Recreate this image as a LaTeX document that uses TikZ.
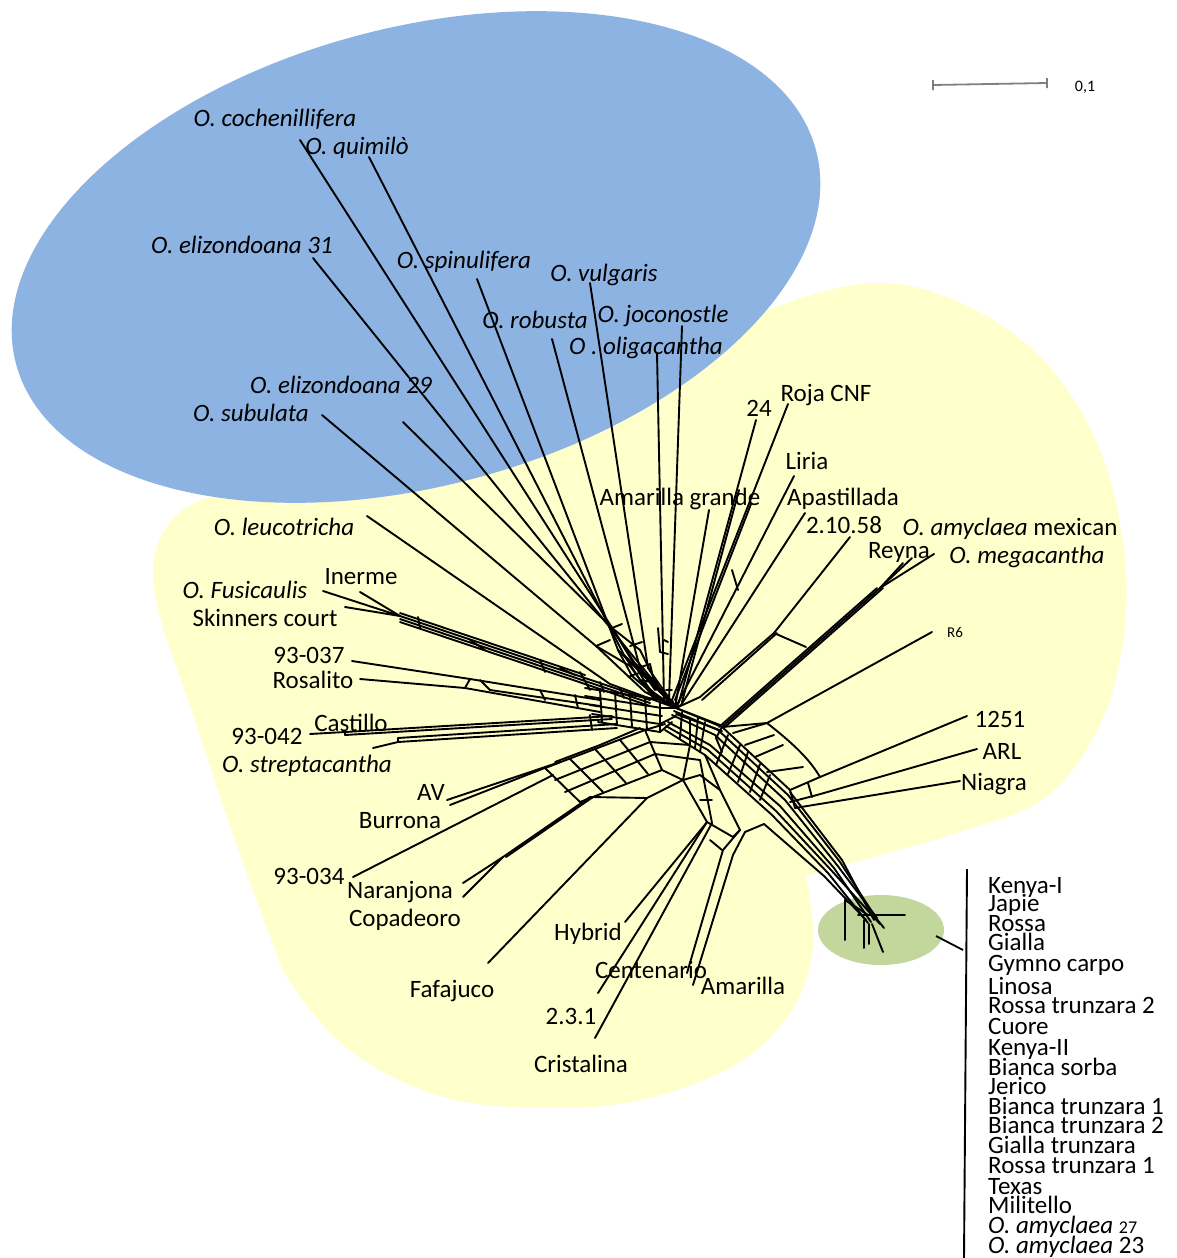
\documentclass[tikz,border=0pt]{standalone}
\usepackage{fontspec}
\setmainfont{Carlito}
\usetikzlibrary{calc}
\begin{document}
\begin{tikzpicture}[x=1pt,y=-1pt,
  net/.style={line width=1.9pt,line join=round,line cap=round},
  lab/.style={inner sep=0pt,anchor=base,font=\fontsize{25}{27}\selectfont},
  spec/.style={lab,font=\fontsize{25}{27}\selectfont\itshape},
  lst/.style={lab,anchor=base west}]
\useasboundingbox (0,0) rectangle (1177,1258);
\fill[white] (0,0) rectangle (1177,1258);
% groups
\definecolor{yellowarea}{HTML}{FFFFCC}
\fill[yellowarea] plot[smooth,tension=0.6] coordinates {(806,876) (813,945) (792,1010) (735,1065) (640,1100) (540,1108) (440,1096) (352,1052) (292,985) (268,930) (235,840) (195,720) (156,600) (162,535) (210,497) (330,480) (500,430) (650,370) (760,313) (873,283) (965,305) (1045,362) (1100,450) (1125,560) (1120,660) (1092,740) (1042,800) (960,832) (880,855) (806,876)} -- cycle;
\definecolor{blueoval}{HTML}{8DB3E2}
\fill[blueoval, rotate around={15:(416,257)}] (416,257) ellipse [x radius=414, y radius=229];
\definecolor{greenoval}{HTML}{C3D69B}
\fill[greenoval] (881,930) ellipse [x radius=63, y radius=35];
% scale bar
\definecolor{scalegray}{HTML}{808080}
\draw[scalegray, line width=1.8pt] (933,85) -- (1047,83) (933,80) -- (933,90) (1047,78) -- (1047,88);
\node[lab, font=\fontsize{16}{18}\selectfont] (scale) at (1085,91) {0,1};
% labels
\node[spec] (coch) at (275,126) {O. cochenillifera};
\node[spec] (quim) at (357,154) {O. quimilò};
\node[spec] (el31) at (242,253) {O. elizondoana 31};
\node[spec] (spin) at (464,268) {O. spinulifera};
\node[spec] (vulg) at (604,281) {O. vulgaris};
\node[spec] (robu) at (535,328) {O. robusta};
\node[spec] (joco) at (663,322) {O. joconostle};
\node[spec] (olig) at (646,354) {O . oligacantha};
\node[spec] (el29) at (341,393) {O. elizondoana 29};
\node[spec] (subu) at (251,421) {O. subulata};
\node[spec] (leuc) at (284,535) {O. leucotricha};
\node[lab] (iner) at (361,584) {Inerme};
\node[spec] (fusi) at (245,598) {O. Fusicaulis};
\node[lab] (skin) at (265,626) {Skinners court};
\node[lab] (n937) at (309,663) {93-037};
\node[lab] (rosa) at (313,688) {Rosalito};
\node[lab] (cast) at (351,731) {Castillo};
\node[lab] (n942) at (267,744) {93-042};
\node[spec] (stre) at (307,772) {O. streptacantha};
\node[lab] (av) at (431,800) {AV};
\node[lab] (burr) at (400,828) {Burrona};
\node[lab] (n934) at (309,884) {93-034};
\node[lab] (nara) at (400,898) {Naranjona};
\node[lab] (copa) at (405,926) {Copadeoro};
\node[lab] (fafa) at (452,997) {Fafajuco};
\node[lab] (hybr) at (588,940) {Hybrid};
\node[lab] (cent) at (651,978) {Centenario};
\node[lab] (amar) at (743,994) {Amarilla};
\node[lab] (n231) at (571,1024) {2.3.1};
\node[lab] (cris) at (581,1072) {Cristalina};
\node[lab] (amgr) at (680,505) {Amarilla grande};
\node[lab] (n24) at (759,416) {24};
\node[lab] (roja) at (826,401) {Roja CNF};
\node[lab] (liri) at (807,469) {Liria};
\node[lab] (apas) at (843,505) {Apastillada};
\node[lab] (n21058) at (844,533) {2.10.58};
\node[lab] (mexi) at (1010,535) {\itshape O. amyclaea\upshape\ mexican};
\node[lab] (reyn) at (899,558) {Reyna};
\node[spec] (mega) at (1027,563) {O. megacantha};
\node[lab, font=\fontsize{15}{17}\selectfont] (r6) at (955,637) {R6};
\node[lab] (n1251) at (1000,727) {1251};
\node[lab] (arl) at (1002,759) {ARL};
\node[lab] (niag) at (994,790) {Niagra};
% list of the green group
\node[lst] (kenya1) at (988,893) {Kenya-I};
\node[lst] (japie) at (988,911) {Japie};
\node[lst] (rossa) at (988,931) {Rossa};
\node[lst] (gialla) at (988,950) {Gialla};
\node[lst] (gymno) at (988,971) {Gymno carpo};
\node[lst] (linosa) at (988,994) {Linosa};
\node[lst] (rtrun2) at (988,1013) {Rossa trunzara 2};
\node[lst] (cuore) at (988,1034) {Cuore};
\node[lst] (kenya2) at (988,1055) {Kenya-II};
\node[lst] (bsorba) at (988,1075) {Bianca sorba};
\node[lst] (jerico) at (988,1094) {Jerico};
\node[lst] (btrun1) at (988,1114) {Bianca trunzara 1};
\node[lst] (btrun2) at (988,1133) {Bianca trunzara 2};
\node[lst] (gtrun) at (988,1153) {Gialla trunzara};
\node[lst] (rtrun1) at (988,1173) {Rossa trunzara 1};
\node[lst] (texas) at (988,1194) {Texas};
\node[lst] (milit) at (988,1213) {Militello};
\node[lst] (amy27) at (988,1233) {\itshape O. amyclaea\upshape\ \fontsize{18}{20}\selectfont 27};
\node[lst] (amy23) at (988,1253) {\itshape O. amyclaea\upshape\ 23};
\coordinate (brtop) at (967,869);
\coordinate (brbot) at (964,1258);
\coordinate (brin) at (963,950);
\coordinate (grnout) at (936,936);
\draw[line width=1.9pt] (brtop) -- (brbot);
\draw[line width=1.8pt] (grnout) -- (brin);
% leaf tips
\coordinate (tcoch) at (300,140);
\coordinate (tquim) at (369,157);
\coordinate (tel31) at (313,258);
\coordinate (tspin) at (477,279);
\coordinate (tvulg) at (590,283);
\coordinate (trobu) at (552,339);
\coordinate (tjoco) at (682,326);
\coordinate (tolig) at (657,353);
\coordinate (tel29) at (403,422);
\coordinate (tsubu) at (322,415);
\coordinate (tleuc) at (367,516);
\coordinate (tiner) at (360,592);
\coordinate (tfusi) at (323,591);
\coordinate (tskin) at (345,607);
\coordinate (t937) at (352,661);
\coordinate (trosa) at (360,679);
\coordinate (tcast) at (310,734);
\coordinate (tstre) at (373,748);
\coordinate (tav) at (447,800);
\coordinate (tburr) at (450,805);
\coordinate (t934) at (353,877);
\coordinate (tnara) at (463,883);
\coordinate (tcopa) at (463,897);
\coordinate (tfafa) at (488,963);
\coordinate (thybr) at (625,922);
\coordinate (tcent) at (598,993);
\coordinate (tcris) at (595,1038);
\coordinate (tama1) at (687,973);
\coordinate (tama2) at (693,985);
\coordinate (tamgr) at (709,510);
\coordinate (t24) at (756,420);
\coordinate (troja) at (788,404);
\coordinate (tliri) at (794,476);
\coordinate (tapas) at (805,513);
\coordinate (t21058) at (850,537);
\coordinate (treyn) at (903,563);
\coordinate (tmexi) at (912,558);
\coordinate (tmega) at (934,554);
\coordinate (tr6) at (932,632);
\coordinate (t1251) at (967,716);
\coordinate (tarl) at (977,749);
\coordinate (tniag) at (960,781);
% inner points
\coordinate (cc) at (676,708);
\coordinate (icoch) at (634,662);
\coordinate (iquim) at (624,655);
\coordinate (iel31) at (628,650);
\coordinate (ispin) at (618,650);
\coordinate (ivulg) at (648,668);
\coordinate (irobu) at (640,668);
\coordinate (ijoco) at (669,700);
\coordinate (iolig) at (664,700);
\coordinate (iel29) at (612,628);
\coordinate (isubu) at (596,646);
\coordinate (ileuc) at (610,684);
\coordinate (iamgr) at (676,702);
\coordinate (i24) at (679,702);
\coordinate (iroja) at (672,700);
\coordinate (iliri) at (678,703);
\coordinate (iapas) at (681,705);
% blue group leaves
\draw[net] (tcoch) -- (icoch) -- (cc);
\draw[net] (tquim) -- (iquim) -- (cc);
\draw[net] (tel31) -- (iel31) -- (cc);
\draw[net] (tspin) -- (ispin) -- (cc);
\draw[net] (tvulg) -- (ivulg) -- (cc);
\draw[net] (trobu) -- (irobu) -- (cc);
\draw[net] (tjoco) -- (ijoco) -- (cc);
\draw[net] (tolig) -- (iolig) -- (cc);
\draw[net] (tel29) -- (iel29) -- (650,690) -- (cc);
\draw[net] (tsubu) -- (isubu) -- (645,692) -- (cc);
\draw[net] (tleuc) -- (ileuc) -- (cc);
\draw[net] (iel29) -- (640,650) -- (660,690);
\draw[net] (isubu) -- (630,666) -- (655,700);
\draw[net] (iquim) -- (640,680) -- (666,704);
\draw[net] (ispin) -- (632,676) -- (660,700);
\draw[net] (irobu) -- (655,690);
\draw[net] (658,628) -- (660,652) -- (668,654);
\draw[net] (612,628) -- (622,624);
\draw[net] (596,646) -- (610,640);
\draw[net] (630,646) -- (642,642);
\draw[net] (638,668) -- (650,664) -- (656,690);
\draw[net] (664,640) -- (668,642);
\draw[net] (666,690) -- (672,690);
\draw[net] (630,676) -- (642,672);
\draw[net] (640,680) -- (652,682);
% upper right leaves
\draw[net] (tamgr) -- (iamgr) -- (cc);
\draw[net] (t24) -- (i24) -- (cc);
\draw[net] (troja) -- (iroja) -- (cc);
\draw[net] (tliri) -- (iliri) -- (cc);
\draw[net] (tapas) -- (iapas) -- (cc);
\draw[net] ([xshift=3pt]t24) ++(-20,70) -- ([xshift=3pt]i24);
\draw[net] ([xshift=3pt]troja) ++(-40,100) -- ([xshift=3pt]iroja);
\draw[net] (732,570) -- (738,590);
% 2.10.58 and Reyna group
\coordinate (k1) at (774,633);
\coordinate (k2) at (806,647);
\coordinate (k3) at (880,588);
\coordinate (k4) at (722,727);
\draw[net] (t21058) -- (k1) -- (700,697) -- (cc);
\draw[net] ([xshift=3pt]k1) -- (702,700);
\draw[net] (k1) -- (k2);
\draw[net] (treyn) -- (k3);
\draw[net] (tmexi) -- (k3);
\draw[net] (tmega) -- (k3);
\draw[net] (k3) -- (k4);
\draw[net] ([xshift=3pt]k3) -- ([xshift=3pt]k4);
\draw[net] ([xshift=-3pt]k3) -- ([xshift=-3pt]k4);
\draw[net] (k4) -- (cc);
\draw[net] ([yshift=-4pt]k4) -- ([yshift=-6pt]cc);
\draw[net] (k4) -- (716,738) -- (722,752);
% R6 and right box
\coordinate (m1) at (767,723);
\coordinate (m2) at (820,777);
\coordinate (m3) at (817,795);
\coordinate (m4) at (795,808);
\draw[net] (tr6) -- (m1) -- (k4);
\draw[net] (733,733) -- (767,723);
\draw[net] (m1) .. controls (795,745) and (810,760) .. (m2);
\draw[net] (745,745) -- (774,735);
\draw[net] (755,757) -- (783,745);
\draw[net] (767,772) -- (803,767);
\draw[net] (t1251) -- (m2) -- (790,790);
\draw[net] (tarl) -- (m3) -- (790,802);
\draw[net] (tniag) -- (m4);
\draw[net] (808,783) -- (812,797);
% right lower bundle
\draw[net] (cc) -- (720,725) -- (790,790);
\draw[net] (674,711) -- (718,730) -- (788,795);
\draw[net] (672,715) -- (715,735) -- (785,800);
\draw[net] (668,722) -- (710,745) -- (780,806);
\draw[net] (666,726) -- (708,750) -- (776,811);
\draw[net] (665,730) -- (705,755) -- (772,815);
\draw[net] (690,718) -- (690,745);
\draw[net] (705,722) -- (700,752);
\draw[net] (728,735) -- (716,765);
\draw[net] (740,745) -- (728,774);
\draw[net] (748,752) -- (738,782);
\draw[net] (760,764) -- (750,792);
\draw[net] (770,775) -- (760,800);
\draw[net] (790,790) -- (795,808);
\draw[net] (682,712) -- (680,738);
\draw[net] (698,718) -- (695,748);
% green bundle
\coordinate (gc) at (874,920);
\draw[net] (790,792) -- (842,860) -- (gc);
\draw[net] (788,795) -- (840,862) -- (876,918);
\draw[net] (785,800) -- (837,865) -- (877,918);
\draw[net] (780,806) -- (834,868) -- (871,922);
\draw[net] (776,811) -- (831,870) -- (880,924);
\draw[net] (772,815) -- (828,873) -- (868,923);
\draw[net] (764,824) -- (824,876) -- (866,920);
\draw[net] (845,900) -- (845,940);
\draw[net] (845,900) -- (868,915);
\draw[net] (858,915) -- (905,915);
\draw[net] (864,920) -- (864,948);
\draw[net] (869,924) -- (869,944);
\draw[net] (872,924) -- (883,952);
\draw[net] (876,918) -- (884,928);
% left upper bundle
\coordinate (a1) at (400,616);
\coordinate (a2) at (585,678);
\coordinate (a3) at (650,700);
\draw[net] (tiner) -- (a1);
\draw[net] (tfusi) -- (a1);
\draw[net] (tskin) -- (a1);
\draw[net] (a1) -- (a2) -- (a3);
\draw[net] ([yshift=-3pt]a1) -- ([yshift=-3pt]a2) -- ([yshift=-3pt]a3);
\draw[net] ([yshift=-6pt]a1) -- ([yshift=-6pt]a2) -- ([yshift=-6pt]a3);
\draw[net] ([yshift=3pt]a1) -- ([yshift=3pt]a2);
\draw[net] (418,617) -- (420,628);
\draw[net] (470,640) -- (485,650);
\draw[net] (540,660) -- (545,672);
\draw[net] (560,668) -- (575,675);
\draw[net] (580,672) -- (590,690);
\draw[net] (600,682) -- (604,692);
\draw[net] (620,688) -- (624,698);
% 93-037 and Rosalito
\coordinate (b1) at (470,679);
\coordinate (b2) at (465,688);
\draw[net] (t937) -- (b1) -- (600,700);
\draw[net] (trosa) -- (b2) -- (600,712);
\draw[net] (b1) -- (b2);
\draw[net] (480,680) -- (490,690) -- (600,706);
\draw[net] (540,690) -- (545,700);
\draw[net] (575,695) -- (578,708);
% core left grid
\draw[net] (585,688) -- (662,700);
\draw[net] (585,696) -- (662,708);
\draw[net] (590,705) -- (662,716);
\draw[net] (592,714) -- (660,724);
\draw[net] (598,722) -- (660,732);
\draw[net] (600,690) -- (602,722);
\draw[net] (615,692) -- (617,725);
\draw[net] (630,695) -- (632,727);
\draw[net] (645,697) -- (647,730);
\draw[net] (660,700) -- (660,732);
\draw[net] (662,708) -- (cc);
\draw[net] (660,724) -- (676,716);
\draw[net] (660,732) -- (672,722);
% Castillo and O. streptacantha
\coordinate (c0) at (345,732);
\coordinate (c2) at (612,716);
\coordinate (c3) at (398,742);
\coordinate (c4) at (617,728);
\draw[net] (tcast) -- (c0) -- (c2);
\draw[net] ([yshift=-3pt]c0) -- ([yshift=-3pt]c2);
\draw[net] (c0) -- ([yshift=-3pt]c0);
\draw[net] (tstre) -- (c3) -- (c4);
\draw[net] ([yshift=4pt]c3) -- ([yshift=4pt]c4);
\draw[net] (c3) -- ([yshift=4pt]c3);
\draw[net] (590,715) -- (592,730);
% lower left grid
\draw[net] (545,768) -- (645,730);
\draw[net] (555,780) -- (650,742);
\draw[net] (565,792) -- (655,754);
\draw[net] (580,802) -- (662,770);
\draw[net] (545,768) -- (580,802);
\draw[net] (570,759) -- (603,792);
\draw[net] (595,749) -- (626,783);
\draw[net] (620,740) -- (648,774);
\draw[net] (645,730) -- (662,770);
\draw[net] (645,730) -- (665,724);
\draw[net] (650,742) -- (690,745);
\draw[net] (655,754) -- (700,760);
\draw[net] (555,762) -- (600,745) -- (640,728);
% AV, 93-034, Naranjona, Copadeoro
\coordinate (d1) at (560,762);
\coordinate (d2) at (553,775);
\coordinate (d3) at (503,857);
\coordinate (d4) at (590,797);
\draw[net] (tav) -- (d1);
\draw[net] (tburr) -- (d1);
\draw[net] (t934) -- (d2);
\draw[net] (tnara) -- (d3);
\draw[net] (tcopa) -- (d3);
\draw[net] (d3) -- (d4);
\draw[net] ([xshift=3pt]d3) -- ([xshift=3pt]d4);
% lower branch
\coordinate (e1) at (647,798);
\coordinate (e2) at (683,780);
\coordinate (f1) at (707,822);
\coordinate (g3) at (740,830);
\draw[net] (tfafa) -- (e1) -- (e2) -- (690,745);
\draw[net] (d4) -- (e1);
\draw[net] (662,770) -- (683,780);
\draw[net] (thybr) -- (703,827) -- (f1);
\draw[net] (tcent) -- (f1);
\draw[net] (tcris) -- (712,823);
\draw[net] (f1) -- (683,780);
\draw[net] (712,823) -- (700,760);
\draw[net] (f1) -- (733,837) -- (g3);
\draw[net] (tama1) -- (723,850) -- (g3);
\draw[net] (tama2) -- (733,855) -- (745,832);
\draw[net] (g3) -- (720,790) -- (705,755);
\draw[net] (745,832) -- (764,824);
\draw[net] (700,800) -- (712,800);
\draw[net] (710,840) -- (722,850);
\draw[net] (683,780) -- (700,775) -- (720,790);
\end{tikzpicture}
\end{document}
